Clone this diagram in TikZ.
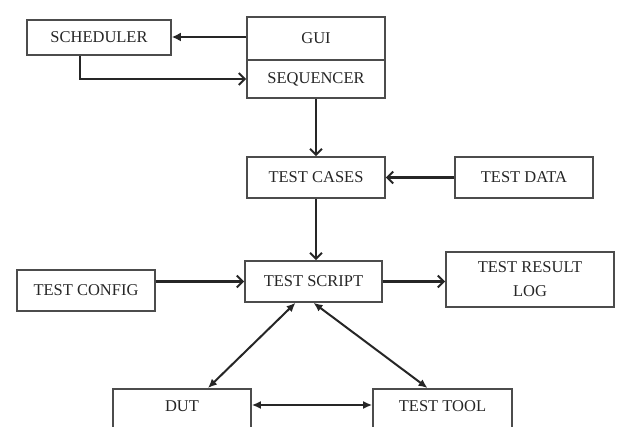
\documentclass[tikz,border=0pt]{standalone}
\usepackage{fontspec}
\setmainfont{Liberation Serif}
\usetikzlibrary{arrows.meta}

\begin{document}
\begin{tikzpicture}[x=1pt, y=-1pt,
    box/.style={shape=rectangle, draw=black!70, line width=1.6pt, inner sep=2pt,
      font=\fontsize{16.5}{24}\selectfont, text=black!85, align=center},
    cutbox/.style={box, anchor=north, inner ysep=4pt, text height=19pt, text depth=30pt},
    link/.style={draw=black!85, line width=2.3pt, -{Straight Barb[length=6pt,width=12pt,line width=2pt]}},
    both/.style={draw=black!85, line width=2pt, {Latex[length=9pt,width=8pt]}-{Latex[length=9pt,width=8pt]}}]
    \clip (0,0) rectangle (623,427);
    \fill[white] (0,0) rectangle (623,427);

    \node[box, minimum width=144, minimum height=35] (sched) at (99,37.5) {SCHEDULER};
    \node[box, minimum width=138, minimum height=43] (gui) at (316,38.5) {GUI};
    \node[box, minimum width=138, minimum height=38] (seq) at (316,79) {SEQUENCER};
    \node[box, minimum width=138, minimum height=41] (cases) at (316,177.5) {TEST CASES};
    \node[box, minimum width=138, minimum height=41] (data) at (524,177.5) {TEST DATA};
    \node[box, minimum width=137, minimum height=41] (script) at (313.5,281.5) {TEST SCRIPT};
    \node[box, minimum width=138, minimum height=41] (config) at (86,290.5) {TEST CONFIG};
    \node[box, minimum width=168, minimum height=55] (result) at (530,279.5) {TEST RESULT\\LOG};
    \node[cutbox, minimum width=138] (dut) at (182,388) {DUT};
    \node[cutbox, minimum width=139] (tool) at (442.5,388) {TEST TOOL};

    \draw[link, -{Latex[length=9pt,width=9pt]}] ([yshift=1.5pt]gui.west) -- ([yshift=1.5pt]gui.west -| sched.east);
    \draw[link] ([xshift=-19pt]sched.south) |- (seq.west);
    \draw[link] (seq.south) -- (cases.north);
    \draw[link] (data.west) -- (cases.east);
    \draw[link] (cases.south) -- (cases.south |- script.north);
    \draw[link] (script.west -| config.east) -- (script.west);
    \draw[link] (script.east) -- (script.east -| result.west);
    \draw[both] ([xshift=-18pt]script.south) -- ([xshift=26pt]dut.north);
    \draw[both] (script.south) -- ([xshift=-15pt]tool.north);
    \draw[both] ([yshift=-17pt]dut.north east) -- ([yshift=-17pt]tool.north west);
\end{tikzpicture}
\end{document}
